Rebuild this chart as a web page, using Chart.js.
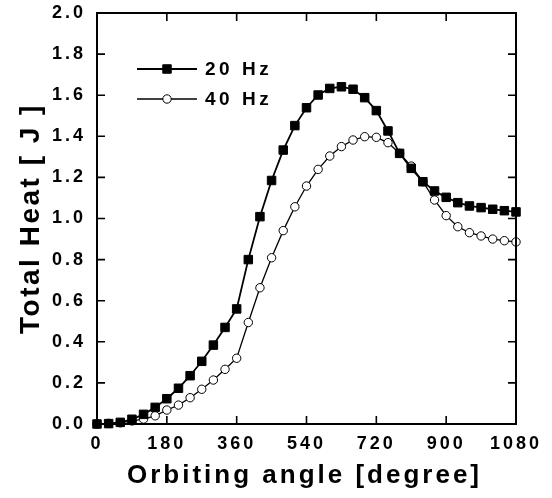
<!DOCTYPE html>
<html>
<head>
<meta charset="utf-8">
<script src="https://cdn.jsdelivr.net/npm/chart.js@4/dist/chart.umd.min.js"></script>
<style>
  html, body { margin: 0; padding: 0; background: #fff; }
  #wrap { width: 552px; height: 498px; }
</style>
</head>
<body>
<div id="wrap"><canvas id="c" width="552" height="498"></canvas></div>
<script>
// ---- data ----
const angles = [0,30,60,90,120,150,180,210,240,270,300,330,360,390,420,450,480,510,540,570,600,630,660,690,720,750,780,810,840,870,900,930,960,990,1020,1050,1080];
const heat20Hz = [0.0,0.002,0.008,0.023,0.047,0.081,0.123,0.174,0.235,0.305,0.384,0.47,0.56,0.80,1.009,1.185,1.333,1.452,1.539,1.601,1.633,1.641,1.629,1.588,1.525,1.426,1.317,1.244,1.179,1.134,1.103,1.077,1.061,1.053,1.045,1.038,1.032];
const heat40Hz = [0.0,0.003,0.006,0.015,0.024,0.040,0.068,0.092,0.128,0.169,0.214,0.266,0.32,0.494,0.663,0.809,0.941,1.057,1.158,1.239,1.304,1.350,1.382,1.398,1.395,1.369,1.317,1.255,1.179,1.090,1.014,0.960,0.931,0.915,0.900,0.892,0.886];
const seriesNames = ['20 Hz', '40 Hz'];
const xTicks = [0,180,360,540,720,900,1080];
const yTicks = [0,0.2,0.4,0.6,0.8,1.0,1.2,1.4,1.6,1.8,2.0];
const xTitle = 'Orbiting angle [degree]';
const yTitle = 'Total Heat [ J ]';

const FONT = "'Liberation Sans', Arial, sans-serif";

const spacingPlugin = {
  id: 'spacing',
  beforeDraw(chart) { chart.ctx.letterSpacing = '3px'; }
};

const framePlugin = {
  id: 'frame',
  afterDatasetsDraw(chart) {
    const {ctx, chartArea: a, scales: {x, y}} = chart;
    ctx.save();
    ctx.letterSpacing = '0px';
    ctx.strokeStyle = '#000';
    ctx.lineWidth = 1.6;
    const tl = 8;
    ctx.beginPath();
    xTicks.forEach(v => {
      const px = x.getPixelForValue(v);
      ctx.moveTo(px, a.bottom); ctx.lineTo(px, a.bottom - tl);
      ctx.moveTo(px, a.top); ctx.lineTo(px, a.top + tl);
    });
    yTicks.forEach(v => {
      const py = y.getPixelForValue(v);
      ctx.moveTo(a.left, py); ctx.lineTo(a.left + tl, py);
      ctx.moveTo(a.right, py); ctx.lineTo(a.right - tl, py);
    });
    ctx.stroke();
    ctx.lineWidth = 2;
    ctx.strokeRect(a.left, a.top, a.right - a.left, a.bottom - a.top);

    // axis titles
    ctx.fillStyle = '#000';
    ctx.textAlign = 'center';
    ctx.textBaseline = 'middle';
    ctx.font = 'bold 26px ' + FONT;
    ctx.letterSpacing = '3px';
    ctx.fillText(xTitle, (a.left + a.right) / 2 - 2, 476);
    ctx.save();
    ctx.translate(31, (a.top + a.bottom) / 2);
    ctx.rotate(-Math.PI / 2);
    ctx.font = 'bold 28px ' + FONT;
    ctx.letterSpacing = '2.5px';
    ctx.fillText(yTitle, 0, 0);
    ctx.restore();

    // legend
    const ds = chart.data.datasets;
    const lx0 = a.left + 40, lx1 = a.left + 100, ly0 = a.top + 56, dy = 30;
    ds.forEach((d, i) => {
      const yy = ly0 + i * dy;
      ctx.beginPath();
      ctx.lineWidth = d.borderWidth;
      ctx.strokeStyle = d.borderColor;
      ctx.moveTo(lx0, yy); ctx.lineTo(lx1, yy);
      ctx.stroke();
      ctx.lineWidth = d.pointBorderWidth;
      ctx.strokeStyle = d.pointBorderColor;
      ctx.fillStyle = d.pointBackgroundColor;
      Chart.helpers.drawPoint(ctx, {pointStyle: d.pointStyle, radius: d.pointRadius, borderWidth: d.pointBorderWidth, rotation: 0}, (lx0 + lx1) / 2, yy);
      ctx.letterSpacing = '3.5px';
      ctx.fillStyle = '#000';
      ctx.font = 'bold 19px ' + FONT;
      ctx.textAlign = 'left';
      ctx.textBaseline = 'middle';
      ctx.fillText(d.label, lx1 + 8, yy + 1);
    });
    ctx.restore();
  }
};

new Chart(document.getElementById('c'), {
  type: 'line',
  data: {
    labels: angles,
    datasets: [
      {
        label: seriesNames[0],
        data: angles.map((a, i) => ({x: a, y: heat20Hz[i]})),
        borderColor: '#000', borderWidth: 1.8,
        pointStyle: 'rect', pointRadius: 6, pointBorderWidth: 1,
        pointBackgroundColor: '#000', pointBorderColor: '#000',
        tension: 0, clip: false
      },
      {
        label: seriesNames[1],
        data: angles.map((a, i) => ({x: a, y: heat40Hz[i]})),
        borderColor: '#000', borderWidth: 1.3,
        pointStyle: 'circle', pointRadius: 4.2, pointBorderWidth: 1,
        pointBackgroundColor: '#fff', pointBorderColor: '#000',
        tension: 0, clip: false
      }
    ]
  },
  options: {
    responsive: false,
    animation: false,
    devicePixelRatio: 1,
    layout: { padding: { top: 13, right: 36, left: 0, bottom: 0 } },
    plugins: { legend: { display: false }, tooltip: { enabled: false } },
    scales: {
      x: {
        type: 'linear', min: 0, max: 1080,
        afterBuildTicks: s => { s.ticks = xTicks.map(v => ({value: v})); },
        afterFit: s => { s.height = 74; s.paddingLeft = 0; s.paddingRight = 0; },
        grid: { display: false, drawTicks: false },
        border: { display: false },
        ticks: { color: '#000', padding: 9, maxRotation: 0, autoSkip: false,
                 callback: v => String(v),
                 font: { family: FONT, size: 18, weight: 'bold' } },
        title: { display: false }
      },
      y: {
        type: 'linear', min: 0, max: 2.0,
        afterBuildTicks: s => { s.ticks = yTicks.map(v => ({value: v})); },
        afterFit: s => { s.width = 97; s.paddingTop = 0; s.paddingBottom = 0; },
        grid: { display: false, drawTicks: false },
        border: { display: false },
        ticks: { color: '#000', padding: 11,
                 callback: v => v.toFixed(1),
                 font: { family: FONT, size: 18, weight: 'bold' } },
        title: { display: false }
      }
    }
  },
  plugins: [spacingPlugin, framePlugin]
});
</script>
</body>
</html>
